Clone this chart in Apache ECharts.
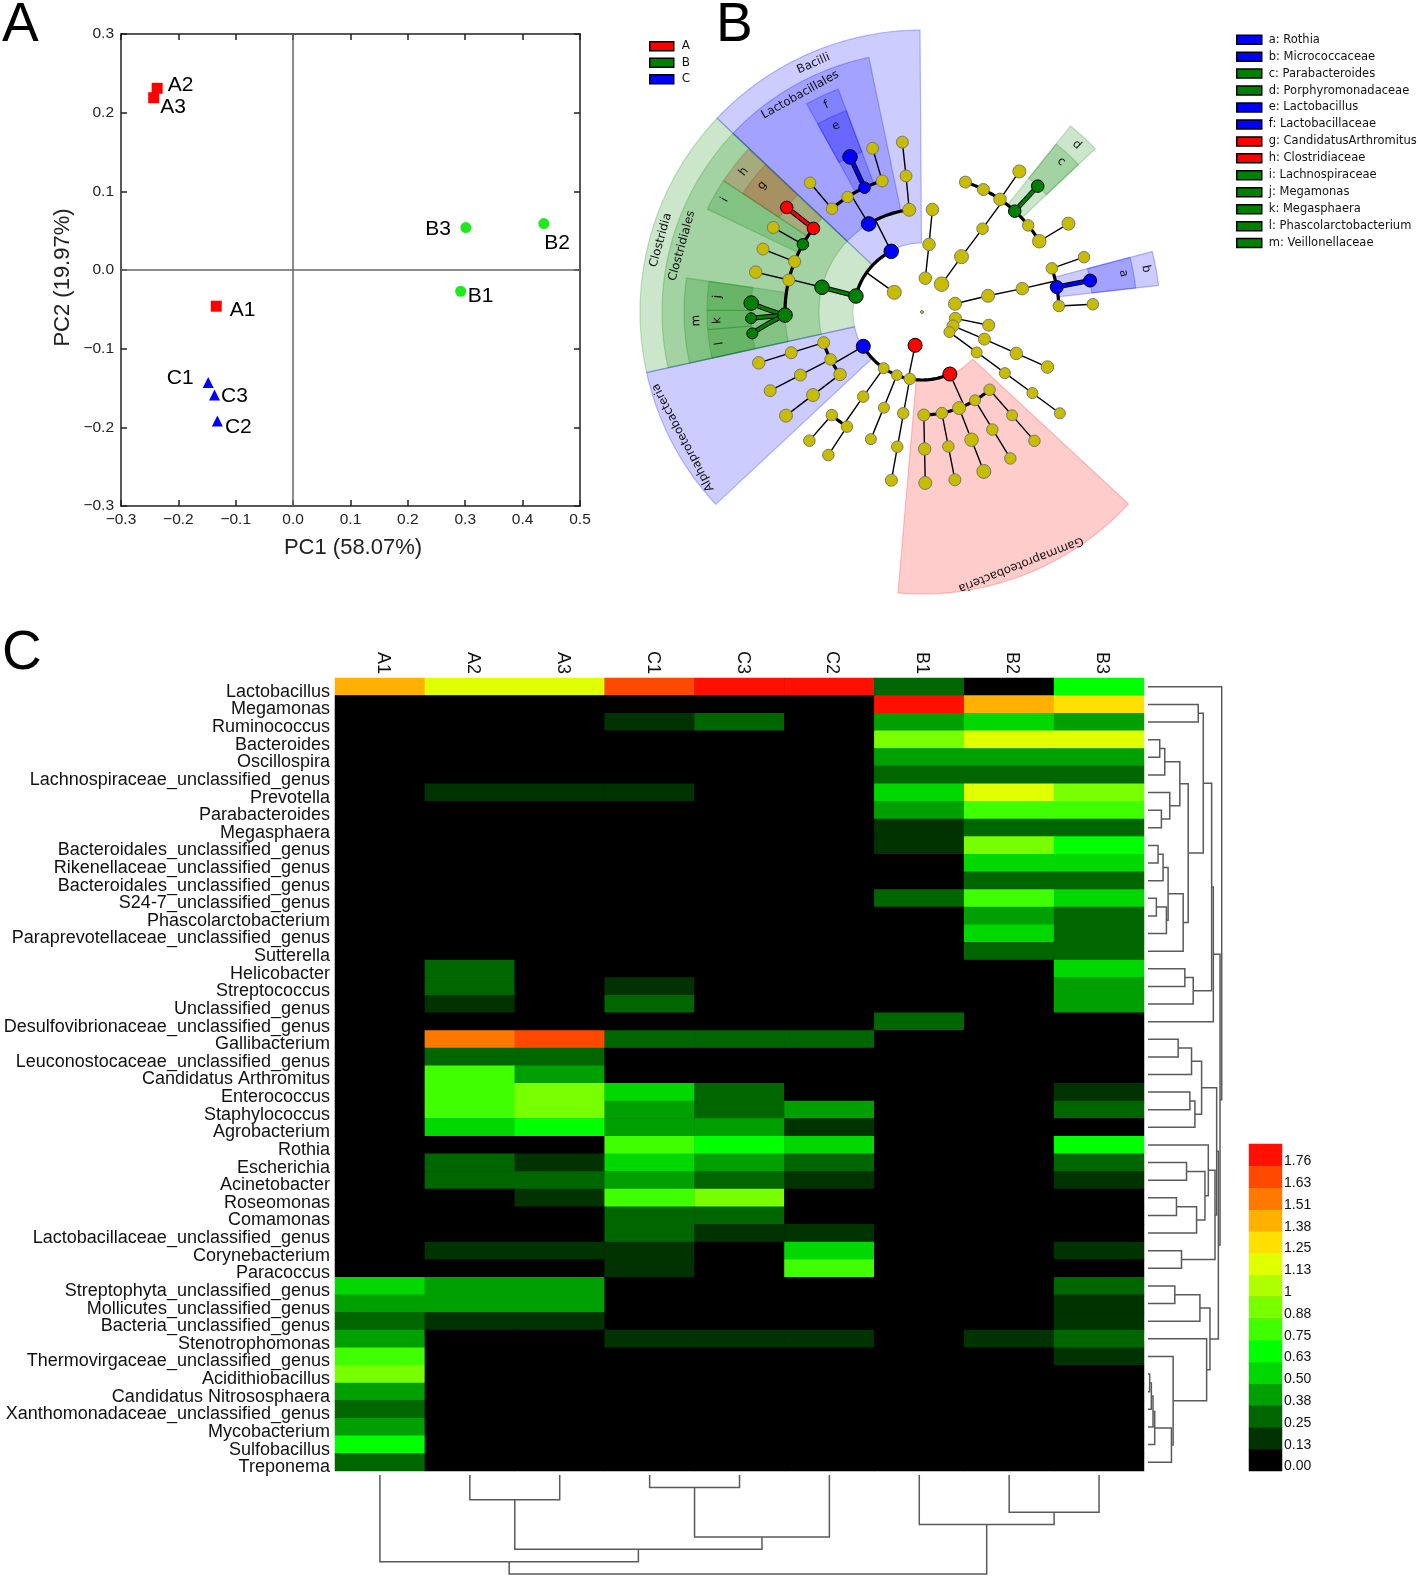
<!DOCTYPE html>
<html>
<head>
<meta charset="utf-8">
<style>html,body{margin:0;padding:0;background:#fff}#chart{width:1418px;height:1578px}</style>
<script src="https://cdn.jsdelivr.net/npm/echarts@6/dist/echarts.min.js"></script>
</head>
<body>
<div id="chart"></div>
<script>
/* ---------- Panel A: PCoA ---------- */
const pcoaGroupA = [['A1', -0.134, -0.046], ['A2', -0.237, 0.231], ['A3', -0.243, 0.219]];
const pcoaGroupB = [['B1', 0.292, -0.027], ['B2', 0.437, 0.059], ['B3', 0.301, 0.054]];
const pcoaGroupC = [['C1', -0.148, -0.143], ['C3', -0.137, -0.159], ['C2', -0.132, -0.192]];

/* ---------- Panel B: cladogram, [ring radius, angle clockwise from north, node size] ---------- */
const cladeNeutral = [
  [0,0,3],
  [137,318.9,11.5],[171,319.1,11.5],[137,327.1,11.5],[137,343.1,12],[171,343.2,12],
  [103,352.9,13],[137,353.3,12],[171,353.4,12],[34,305.4,14],
  [137,283.5,12],[171,283.5,12.5],[137,291.6,12],[171,291.6,12],[171,299.6,12],
  [34,5.6,12.5],[68,5.9,12.5],[103,5.8,12.5],
  [34,35.1,14.5],[68,35.5,14],[103,36,11.5],[137,34.7,12.5],[171,34.7,13],
  [137,26.6,12],[137,18.5,12],[137,50.8,11.5],[137,58.9,13.5],[171,58.9,13],
  [34,76,13],[68,76.2,13],[103,76.9,12.5],
  [137,71.4,11.5],[171,71.3,11.5],[137,87.5,11.5],[171,87.4,11.5],
  [34,100.7,12],[68,101.2,12],
  [34,114.1,12],[68,113.5,12],[103,113.7,12.5],[137,113.7,12.5],
  [34,126.2,11],[68,126.5,11],[103,126.4,11],[137,126.3,11],[171,126.3,11],
  [103,139,11.5],[103,149,11],[103,158.9,13],[103,168.9,11.5],[103,179,12],
  [137,138.9,11],[137,149.1,11.5],[137,158.8,13.5],[137,168.9,11.5],[137,178.9,12.5],
  [171,138.9,11.5],[171,148.9,11.5],[171,158.8,14],[171,168.9,12],[171,178.9,13],
  [68,190.4,11.5],[103,190.5,11.5],[137,190.4,11.5],[171,190.3,12],
  [68,201.7,10.5],[103,201.7,11],[137,201.9,11],
  [68,214.3,11],[103,214.8,11.5],[137,213.2,11.5],[137,221.2,11.5],[171,213.2,11.5],[171,221.2,11.5],
  [103,232.7,12.5],[103,242.6,11.5],[103,252.7,12],
  [137,232.7,13],[137,242.6,12],[137,252.7,12],
  [171,232.7,13],[171,242.6,12],[171,252.7,12.5]
];
const cladeNodesA = [[137,307.6,12.5],[171,307.7,12.5],[34,191.7,14],[68,155.8,14]];
const cladeNodesB = [[68,283.6,14.5],[103,283.9,14.5],[137,268.7,14.5],[171,273,14.5],[171,267.9,11],[171,262.8,11],
  [137,299.6,11.5],[137,42.6,12.5],[171,42.6,12.5]];
const cladeNodesC = [[68,333.1,14.5],[103,328.8,14.5],[137,335.2,11.5],[171,335.1,14.5],[68,239.7,14],[137,79.5,13],[171,79.4,13]];

/* edges: [radius 1, angle 1, radius 2, angle 2, kind] */
const cladeEdges = [
  [34,305.4,68,305.4,'thin'],[68,283.6,68,333.1,'thick'],
  [68,333.1,103,333.1,'thin'],[103,328.8,103,352.9,'thick'],[103,328.8,137,328.8,'thin'],
  [137,318.9,137,343.1,'thick'],[137,318.9,171,319.1,'thin'],[137,335.2,171,335.1,'C'],[137,343.1,171,343.2,'thin'],
  [103,352.9,137,353.3,'thin'],[137,353.3,171,353.4,'thin'],
  [68,283.6,103,283.9,'B'],[103,283.9,137,283.9,'thin'],[137,268.7,137,307.6,'thick'],
  [137,283.5,171,283.5,'thin'],[137,291.6,171,291.6,'thin'],[137,299.6,171,299.6,'thin'],[137,307.6,171,307.7,'A'],
  [137,268.7,171,273,'B'],[137,268.7,171,267.9,'B'],[137,268.7,171,262.8,'B'],
  [34,5.6,68,5.9,'thin'],[68,5.9,103,5.8,'thin'],
  [34,35.1,68,35.5,'thin'],[68,35.5,103,36,'thin'],[103,36,137,36,'thin'],[137,18.5,137,58.9,'thick'],
  [137,34.7,171,34.7,'thin'],[137,42.6,171,42.6,'B'],[137,58.9,171,58.9,'thin'],
  [34,76,68,76.2,'thin'],[68,76.2,103,76.9,'thin'],[103,76.9,137,76.9,'thin'],[137,71.4,137,87.5,'thick'],
  [137,71.4,171,71.3,'thin'],[137,79.5,171,79.4,'C'],[137,87.5,171,87.4,'thin'],
  [34,100.7,68,101.2,'thin'],
  [34,114.1,68,113.5,'thin'],[68,113.5,137,113.7,'thin'],
  [34,126.2,171,126.3,'thin'],
  [34,191.7,68,191.7,'thin'],[68,155.8,68,239.7,'thick'],
  [68,155.8,103,155.8,'thin'],[103,139,103,179,'thick'],
  [103,139,171,138.9,'thin'],[103,149,171,148.9,'thin'],[103,158.9,171,158.8,'thin'],[103,168.9,171,168.9,'thin'],[103,179,171,178.9,'thin'],
  [68,190.4,171,190.3,'thin'],[68,201.7,137,201.9,'thin'],
  [68,214.3,103,214.8,'thin'],[103,214.8,137,214.8,'thin'],[137,213.2,137,221.2,'thick'],[137,213.2,171,213.2,'thin'],[137,221.2,171,221.2,'thin'],
  [68,239.7,103,239.7,'thin'],[103,232.7,103,252.7,'thick'],
  [103,232.7,171,232.7,'thin'],[103,242.6,171,242.6,'thin'],[103,252.7,171,252.7,'thin']
];

/* shaded clades: [inner radius, outer radius, angle from, angle to, group] */
const cladeWedges = [
  [69,282,313.4,359.6,'C'],[69,282,257.6,313.4,'B'],[69,282,227,257.6,'C'],[69,282,132.9,184.9,'A'],
  [103,260,313.4,348.2,'C'],[103,260,257.6,313.4,'B'],
  [137,238,331,339.4,'C'],[137,238,303.5,313.2,'T'],[137,238,295.6,303.5,'B'],[137,238,257.6,278.2,'B'],
  [137,238,38.6,46.7,'B'],[137,238,75.3,83.6,'C'],
  [171,215,331,339.4,'C'],[171,215,303.5,313.2,'T'],[171,215,270.5,278.2,'B'],[171,215,265.3,270.5,'B'],[171,215,257.6,265.3,'B'],
  [171,215,38.6,46.7,'B'],[171,215,75.3,83.6,'C']
];
const cladeLabels = [
  [271,336.4,'Bacilli'],[249,330.7,'Lactobacillales'],[271,285.4,'Clostridia'],[249,285.4,'Clostridiales'],
  [270,242.3,'Alphaproteobacteria'],[271,158.6,'Gammaproteobacteria']
];
const cladeLetters = [
  [228,335.2,'f'],[205,335.2,'e'],[227,308.2,'h'],[204,308.4,'g'],[227,299.6,'i'],[226,267.8,'m'],
  [205,267.6,'k'],[205,274.3,'j'],[205,261.2,'l'],[205,42.8,'c'],[228,42.8,'d'],[205,79.2,'a'],[228,79.1,'b']
];
const groupNames = ['A', 'B', 'C'];
const biomarkerNames = ['a: Rothia','b: Micrococcaceae','c: Parabacteroides','d: Porphyromonadaceae','e: Lactobacillus','f: Lactobacillaceae',
  'g: CandidatusArthromitus','h: Clostridiaceae','i: Lachnospiraceae','j: Megamonas','k: Megasphaera','l: Phascolarctobacterium','m: Veillonellaceae'];
const biomarkerGroups = ['C','C','B','B','C','C','A','A','B','B','B','B','B'];

/* ---------- Panel C: heatmap ---------- */
const sampleNames = ['A1','A2','A3','C1','C3','C2','B1','B2','B3'];
const genusNames = ['Lactobacillus','Megamonas','Ruminococcus','Bacteroides','Oscillospira','Lachnospiraceae_unclassified_genus','Prevotella',
  'Parabacteroides','Megasphaera','Bacteroidales_unclassified_genus','Rikenellaceae_unclassified_genus','Bacteroidales_unclassified_genus',
  'S24-7_unclassified_genus','Phascolarctobacterium','Paraprevotellaceae_unclassified_genus','Sutterella','Helicobacter','Streptococcus',
  'Unclassified_genus','Desulfovibrionaceae_unclassified_genus','Gallibacterium','Leuconostocaceae_unclassified_genus','Candidatus Arthromitus',
  'Enterococcus','Staphylococcus','Agrobacterium','Rothia','Escherichia','Acinetobacter','Roseomonas','Comamonas',
  'Lactobacillaceae_unclassified_genus','Corynebacterium','Paracoccus','Streptophyta_unclassified_genus','Mollicutes_unclassified_genus',
  'Bacteria_unclassified_genus','Stenotrophomonas','Thermovirgaceae_unclassified_genus','Acidithiobacillus','Candidatus Nitrososphaera',
  'Xanthomonadaceae_unclassified_genus','Mycobacterium','Sulfobacillus','Treponema'];
const heatValues = [
  [1.38,1.13,1.13,1.63,1.76,1.76,.25,0,.63],
  [0,0,0,0,0,0,1.76,1.38,1.25],
  [0,0,0,.13,.25,0,.38,.5,.38],
  [0,0,0,0,0,0,.88,1.13,1.13],
  [0,0,0,0,0,0,.38,.38,.38],
  [0,0,0,0,0,0,.25,.25,.25],
  [0,.13,.13,.13,0,0,.5,1.13,.88],
  [0,0,0,0,0,0,.38,.75,.75],
  [0,0,0,0,0,0,.13,.25,.25],
  [0,0,0,0,0,0,.13,.88,.63],
  [0,0,0,0,0,0,0,.5,.5],
  [0,0,0,0,0,0,0,.25,.25],
  [0,0,0,0,0,0,.25,.75,.5],
  [0,0,0,0,0,0,0,.38,.25],
  [0,0,0,0,0,0,0,.5,.25],
  [0,0,0,0,0,0,0,.25,.25],
  [0,.25,0,0,0,0,0,0,.5],
  [0,.25,0,.13,0,0,0,0,.38],
  [0,.13,0,.25,0,0,0,0,.38],
  [0,0,0,0,0,0,.25,0,0],
  [0,1.51,1.63,.25,.25,.25,0,0,0],
  [0,.25,.25,0,0,0,0,0,0],
  [0,.75,.38,0,0,0,0,0,0],
  [0,.75,.88,.5,.25,0,0,0,.13],
  [0,.75,.88,.38,.25,.38,0,0,.25],
  [0,.5,.63,.38,.38,.13,0,0,0],
  [0,0,0,.75,.63,.5,0,0,.63],
  [0,.25,.13,.5,.38,.25,0,0,.25],
  [0,.25,.25,.38,.25,.13,0,0,.13],
  [0,0,.13,.75,.88,0,0,0,0],
  [0,0,0,.25,.25,0,0,0,0],
  [0,0,0,.25,.13,.13,0,0,0],
  [0,.13,.13,.13,0,.5,0,0,.13],
  [0,0,0,.13,0,.75,0,0,0],
  [.5,.38,.38,0,0,0,0,0,.25],
  [.38,.38,.38,0,0,0,0,0,.13],
  [.25,.13,.13,0,0,0,0,0,.13],
  [.38,0,0,.13,.13,.13,0,.13,.25],
  [.75,0,0,0,0,0,0,0,.13],
  [.88,0,0,0,0,0,0,0,0],
  [.38,0,0,0,0,0,0,0,0],
  [.25,0,0,0,0,0,0,0,0],
  [.38,0,0,0,0,0,0,0,0],
  [.63,0,0,0,0,0,0,0,0],
  [.25,0,0,0,0,0,0,0,0]
];
const scaleValues = [0,.13,.25,.38,.5,.63,.75,.88,1,1.13,1.25,1.38,1.51,1.63,1.76];
const scaleLabels = ['0.00','0.13','0.25','0.38','0.50','0.63','0.75','0.88','1','1.13','1.25','1.38','1.51','1.63','1.76'];
const scaleColors = ['#000000','#003300','#006600','#00a000','#00d800','#00ff00','#40ff00','#78ff00','#b0ff00','#e0ff00',
  '#ffe000','#ffb000','#ff7800','#ff4800','#ff1000'];

/* dendrogram merges: the k-th entry joins its two members at merge height k; mN is the N-th merge */
const columnMerges = [['c4','c5'],['c2','c3'],['c8','c9'],['c7','m3'],['m1','c6'],['m2','m5'],['c1','m6'],['m7','m4']];
const rowMerges = [
  ['c40','c41'],['m1','c42'],['m2','c43'],['m3','c44'],['c13','c14'],['c10','c11'],['c4','c5'],['c8','c9'],['m6','c12'],['m7','c6'],
  ['m5','c15'],['m9','m11'],['c7','m8'],['m4','c45'],['c39','m14'],['c35','c36'],['c30','c31'],['c21','c22'],['m10','m13'],['c33','c34'],
  ['m12','c16'],['c17','c18'],['c28','c29'],['m19','m21'],['c24','c25'],['m18','c23'],['m22','c19'],['m25','c26'],['m17','c32'],['c2','c3'],
  ['m16','c37'],['m26','m28'],['m30','m24'],['m23','m29'],['c38','m15'],['c27','m34'],['m31','m35'],['m33','m27'],['m38','c20'],['m36','m20'],
  ['m32','m40'],['m41','m37'],['m39','m42'],['c1','m43']
];

/* ---------- helpers ---------- */
const SANS = '"Liberation Sans", Arial, sans-serif';
const DEJAVU = '"DejaVu Sans", sans-serif';
const groupColor = { A: '#ff0000', B: '#008000', C: '#0000ff' };
const wedgeFill = { A: 'rgba(255,0,0,0.2)', B: 'rgba(0,128,0,0.2)', C: 'rgba(0,0,255,0.2)', T: 'rgba(172,82,36,0.3)' };
const wedgeEdge = { A: 'rgba(255,0,0,0.22)', B: 'rgba(0,128,0,0.22)', C: 'rgba(0,0,255,0.25)', T: 'rgba(120,90,30,0.25)' };

function dendroSegments(merges) {
  const pos = {}, h = {}, segs = [];
  const lookup = k => k[0] === 'c' ? [parseInt(k.slice(1), 10) - 1, 0] : [pos[k], h[k]];
  merges.forEach((m, i) => {
    const a = lookup(m[0]), b = lookup(m[1]), rank = i + 1;
    segs.push([a[0], a[1], b[0], b[1], rank]);
    pos['m' + rank] = (a[0] + b[0]) / 2;
    h['m' + rank] = rank;
  });
  return segs;
}
function dendroSeries(segs, horizontal, axisIndex) {
  return {
    type: 'custom', coordinateSystem: 'cartesian2d', xAxisIndex: axisIndex, yAxisIndex: axisIndex, silent: true,
    data: segs.map(s => horizontal ? [s[4], s[0]] : [s[0], s[4]]),
    renderItem(params, api) {
      const s = segs[params.dataIndex];
      const pt = (p, v) => api.coord(horizontal ? [v, p] : [p, v]);
      return { type: 'polyline',
        shape: { points: [pt(s[0], s[1]), pt(s[0], s[4]), pt(s[2], s[4]), pt(s[2], s[3])] },
        style: { stroke: '#5a5a5a', lineWidth: 1.5, fill: null } };
    }
  };
}
const pcoaLabelOffsets = { A1:[8,4.5], A2:[5,-3.5], A3:[1,9.5], B1:[1.5,5], B2:[-5,20], B3:[-46,2], C1:[-47,-4], C3:[1,1.5], C2:[2,6] };
function pcoaSeries(name, rows, symbol, color) {
  return {
    name, type: 'scatter', xAxisIndex: 0, yAxisIndex: 0, symbol, symbolSize: 11, z: 5,
    itemStyle: { color, opacity: 1 },
    label: { show: true, formatter: '{b}', fontFamily: SANS, fontSize: 21, color: '#000', opacity: 1 },
    data: rows.map(r => ({ name: r[0], value: [r[1], r[2]],
      label: { position: 'right', distance: 0, offset: pcoaLabelOffsets[r[0]] } }))
  };
}

function axisBase(extra) { return Object.assign({ show: false }, extra); }
const minusFmt = v => (v < 0 ? '\u2212' : '') + Math.abs(v).toFixed(1);
const pcaTick = { show: true, inside: true, length: 6, lineStyle: { color: '#222', width: 1.5 } };
const pcaLine = { show: true, onZero: false, lineStyle: { color: '#222', width: 1.5 } };
const pcaLabel = m => ({ fontFamily: SANS, fontSize: 15.5, color: '#222', margin: m, formatter: minusFmt });

function cladeNodeSeries(name, rows, color, borderColor) {
  return {
    name, type: 'scatter', coordinateSystem: 'polar', polarIndex: 0, z: 4,
    data: rows.map(r => [r[0], r[1]]),
    symbolSize: (v, p) => rows[p.dataIndex][2],
    itemStyle: { color, borderColor, borderWidth: 1, opacity: 1 }
  };
}
const legendIcon = n => ({ icon: 'rect', itemStyle: { color: groupColor[n], borderColor: '#000', borderWidth: 1.5, opacity: 1 } });

const option = {
  animation: false,
  backgroundColor: '#ffffff',
  textStyle: { fontFamily: SANS },
  graphic: [
    { type: 'text', left: 2, top: -2, style: { text: 'A', font: '55px ' + SANS, fill: '#000' } },
    { type: 'text', left: 716, top: -2, style: { text: 'B', font: '55px ' + SANS, fill: '#000' } },
    { type: 'text', left: 2, top: 626, style: { text: 'C', font: '55px ' + SANS, fill: '#000' } },
    { type: 'text', x: 353, y: 547.5, style: { text: 'PC1 (58.07%)', font: '22px ' + SANS, fill: '#222', align: 'center', verticalAlign: 'middle' } },
    { type: 'text', x: 62.5, y: 277.5, rotation: Math.PI / 2, style: { text: 'PC2 (19.97%)', font: '22px ' + SANS, fill: '#222', align: 'center', verticalAlign: 'middle' } }
  ],
  legend: [
    { orient: 'vertical', left: 649, top: 40, padding: 0, itemWidth: 24, itemHeight: 9, itemGap: 4.1, selectedMode: false,
      textStyle: { fontFamily: DEJAVU, fontSize: 12, color: '#111', padding: [0, 0, 0, 3], lineHeight: 12.4 },
      data: groupNames.map(n => Object.assign({ name: n }, legendIcon(n))) },
    { orient: 'vertical', left: 1236, top: 33.5, padding: 0, itemWidth: 25, itemHeight: 9, itemGap: 4.55, selectedMode: false,
      textStyle: { fontFamily: DEJAVU, fontSize: 11.5, color: '#111', padding: [0, 0, 0, 2], lineHeight: 12.4 },
      data: biomarkerNames.map((n, i) => Object.assign({ name: n }, legendIcon(biomarkerGroups[i]))) }
  ],
  polar: { center: [922, 312], radius: [0, 300] },
  radiusAxis: { polarIndex: 0, min: 0, max: 300, show: false },
  angleAxis: { polarIndex: 0, min: 0, max: 360, startAngle: 90, clockwise: true, show: false },
  grid: [
    { left: 121, width: 459, top: 34, height: 472, show: false },
    { left: 335, width: 809, top: 678, height: 793, show: true, backgroundColor: '#000', borderWidth: 0 },
    { left: 335, width: 809, top: 1475, height: 99 },
    { left: 1148, width: 73.7, top: 678, height: 793 },
    { left: 1249, width: 33, top: 1144, height: 327, show: true, backgroundColor: '#000', borderWidth: 0 }
  ],
  xAxis: [
    { gridIndex: 0, type: 'value', min: -0.3, max: 0.5, interval: 0.1, position: 'bottom', splitLine: { show: false },
      axisLine: pcaLine, axisTick: pcaTick, axisLabel: pcaLabel(6) },
    { gridIndex: 0, type: 'value', min: -0.3, max: 0.5, interval: 0.1, position: 'top', splitLine: { show: false },
      axisLine: pcaLine, axisTick: pcaTick, axisLabel: { show: false } },
    { gridIndex: 1, type: 'category', data: sampleNames, position: 'top', axisLine: { show: false }, axisTick: { show: false }, splitLine: { show: false },
      axisLabel: { rotate: 90, margin: 4, interval: 0, fontFamily: SANS, fontSize: 18, color: '#111', verticalAlign: 'bottom', lineHeight: 6 } },
    axisBase({ gridIndex: 2, type: 'value', min: -0.5, max: 8.5 }),
    axisBase({ gridIndex: 3, type: 'value', min: 0, max: 44 }),
    axisBase({ gridIndex: 4, type: 'category', data: ['scale'] })
  ],
  yAxis: [
    { gridIndex: 0, type: 'value', min: -0.3, max: 0.3, interval: 0.1, position: 'left', splitLine: { show: false },
      axisLine: pcaLine, axisTick: pcaTick, axisLabel: pcaLabel(7) },
    { gridIndex: 0, type: 'value', min: -0.3, max: 0.3, interval: 0.1, position: 'right', splitLine: { show: false },
      axisLine: pcaLine, axisTick: pcaTick, axisLabel: { show: false } },
    { gridIndex: 1, type: 'category', data: genusNames, inverse: true, axisLine: { show: false }, axisTick: { show: false }, splitLine: { show: false },
      axisLabel: { margin: 5, interval: 0, fontFamily: SANS, fontSize: 18, color: '#111', verticalAlign: 'top', lineHeight: 10 } },
    axisBase({ gridIndex: 2, type: 'value', min: 0, max: 8, inverse: true }),
    axisBase({ gridIndex: 3, type: 'value', min: -0.5, max: 44.5, inverse: true }),
    { gridIndex: 4, type: 'category', data: scaleLabels, position: 'right', axisLine: { show: false }, axisTick: { show: false }, splitLine: { show: false },
      axisLabel: { margin: 2, interval: 0, fontFamily: SANS, fontSize: 14, color: '#111', verticalAlign: 'top', lineHeight: 13 } }
  ],
  visualMap: {
    type: 'piecewise', show: false, dimension: 2, seriesIndex: [0, 1],
    pieces: scaleValues.map((v, i) => ({ value: v, color: scaleColors[i] }))
  },
  series: [
    { type: 'heatmap', xAxisIndex: 2, yAxisIndex: 2, silent: true, progressive: 0,
      data: heatValues.flatMap((row, r) => row.map((v, c) => [c, r, v])) },
    { type: 'heatmap', xAxisIndex: 5, yAxisIndex: 5, silent: true, progressive: 0,
      data: scaleValues.map((v, i) => [0, i, v]) },
    dendroSeries(dendroSegments(columnMerges), false, 3),
    dendroSeries(dendroSegments(rowMerges), true, 4),
    pcoaSeries('PCoA A', pcoaGroupA, 'rect', '#ff0000'),
    pcoaSeries('PCoA B', pcoaGroupB, 'circle', '#1de91d'),
    pcoaSeries('PCoA C', pcoaGroupC, 'triangle', '#0000ff'),
    { type: 'scatter', xAxisIndex: 0, yAxisIndex: 0, data: [], symbolSize: 0, silent: true,
      markLine: { silent: true, symbol: 'none', label: { show: false }, animation: false,
        lineStyle: { color: '#666', width: 1.5, type: 'solid' }, data: [{ xAxis: 0 }, { yAxis: 0 }] } },
    { type: 'custom', coordinateSystem: 'polar', polarIndex: 0, z: 1, silent: true,
      data: cladeWedges.map(w => [w[1], w[2]]),
      renderItem(params, api) {
        const w = cladeWedges[params.dataIndex], pts = [];
        const steps = Math.ceil(w[3] - w[2]);
        for (let i = 0; i <= steps; i++) pts.push(api.coord([w[1], w[2] + (w[3] - w[2]) * i / steps]).slice(0, 2));
        for (let i = steps; i >= 0; i--) pts.push(api.coord([w[0], w[2] + (w[3] - w[2]) * i / steps]).slice(0, 2));
        return { type: 'polygon', shape: { points: pts }, style: { fill: wedgeFill[w[4]], stroke: wedgeEdge[w[4]], lineWidth: 1.2 } };
      } },
    { type: 'custom', coordinateSystem: 'polar', polarIndex: 0, z: 2, silent: true,
      data: cladeEdges.map(e => [e[0], e[1]]),
      renderItem(params, api) {
        const e = cladeEdges[params.dataIndex], pts = [];
        const steps = Math.max(1, Math.ceil(Math.abs(e[3] - e[1])));
        for (let i = 0; i <= steps; i++) pts.push(api.coord([e[0] + (e[2] - e[0]) * i / steps, e[1] + (e[3] - e[1]) * i / steps]).slice(0, 2));
        const line = (stroke, lineWidth) => ({ type: 'polyline', shape: { points: pts }, style: { stroke, lineWidth, fill: null, lineCap: 'round' } });
        if (e[4] === 'thin') return line('#000', 1.4);
        if (e[4] === 'thick') return line('#000', 3.2);
        return { type: 'group', children: [line('#000', 5), line(groupColor[e[4]], 3)] };
      } },
    cladeNodeSeries('neutral', cladeNeutral, '#c8bc00', '#777'),
    cladeNodeSeries('A', cladeNodesA, groupColor.A, '#000'),
    cladeNodeSeries('B', cladeNodesB, groupColor.B, '#000'),
    cladeNodeSeries('C', cladeNodesC, groupColor.C, '#000'),
    { type: 'custom', coordinateSystem: 'polar', polarIndex: 0, z: 6, silent: true,
      data: cladeLabels.concat(cladeLetters).map(l => [l[0], l[1]]),
      renderItem(params, api) {
        const l = cladeLabels.concat(cladeLetters)[params.dataIndex];
        const p = api.coord([l[0], l[1]]);
        return { type: 'text', x: p[0], y: p[1], rotation: -l[1] * Math.PI / 180,
          style: { text: l[2], fill: '#111', font: '11.8px ' + DEJAVU, align: 'center', verticalAlign: 'middle' } };
      } }
  ].concat(biomarkerNames.map(n => ({ name: n, type: 'scatter', coordinateSystem: 'polar', polarIndex: 0, data: [] })))
};
echarts.init(document.getElementById('chart'), null, { renderer: 'canvas' }).setOption(option);
</script>
</body>
</html>
